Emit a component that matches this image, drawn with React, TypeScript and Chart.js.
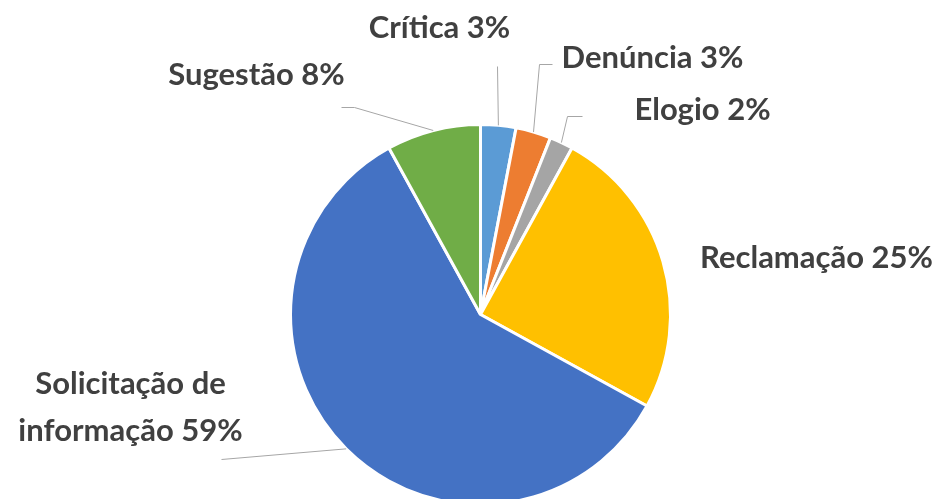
import React, { useEffect, useRef } from "react";
import { Chart, registerables } from "chart.js";
Chart.register(...registerables);

const categories = ["Crítica", "Denúncia", "Elogio", "Reclamação", "Solicitação de informação", "Sugestão"];
const values = [3, 3, 2, 25, 59, 8];
const colors = ["#5B9BD5", "#ED7D31", "#A5A5A5", "#FFC000", "#4472C4", "#70AD47"];
// how each category label wraps
const labelLines = [["Crítica"], ["Denúncia"], ["Elogio"], ["Reclamação"], ["Solicitação de", "informação"], ["Sugestão"]];
// label centre, relative to pie centre (px at radius 190)
const labelPos: number[][] = [[-41, -287], [172, -257], [222, -205], [336, -57], [-350, 93], [-224, -240]];
// leader line elbows / ends, relative to pie centre
const elbows: (number[] | null)[] = [[17, -248], [59, -250], [87, -198], null, null, [-126, -207]];
const tailEnds: (number[] | null)[] = [null, [72, -250], [102, -198], null, [-259, 145], [-139, -207]];

const FONT = "bold 31px Lato";
const LINE_H = 47;

const labelPlugin = {
  id: "pieLabels",
  afterDatasetsDraw(chart: any) {
    const ctx = chart.ctx;
    const meta = chart.getDatasetMeta(0);
    ctx.save();
    meta.data.forEach((arc: any, i: number) => {
      const { x, y, startAngle, endAngle, outerRadius } = arc.getProps(["x", "y", "startAngle", "endAngle", "outerRadius"], true);
      const s = outerRadius / 190;
      const mid = (startAngle + endAngle) / 2;
      const px = x + Math.cos(mid) * outerRadius;
      const py = y + Math.sin(mid) * outerRadius;
      const pts: number[][] = [[px, py]];
      if (elbows[i]) pts.push([x + elbows[i]![0] * s, y + elbows[i]![1] * s]);
      if (tailEnds[i]) pts.push([x + tailEnds[i]![0] * s, y + tailEnds[i]![1] * s]);
      if (pts.length > 1) {
        ctx.beginPath();
        ctx.strokeStyle = "#A6A6A6";
        ctx.lineWidth = 1;
        ctx.moveTo(pts[0][0], pts[0][1]);
        for (let k = 1; k < pts.length; k++) ctx.lineTo(pts[k][0], pts[k][1]);
        ctx.stroke();
      }
      const lines = labelLines[i].slice();
      lines[lines.length - 1] = lines[lines.length - 1] + " " + values[i] + "%";
      ctx.font = FONT;
      ctx.fillStyle = "#404040";
      ctx.textAlign = "center";
      ctx.textBaseline = "middle";
      const cx = x + labelPos[i][0] * s;
      const cy = y + labelPos[i][1] * s;
      const top = cy - ((lines.length - 1) * LINE_H) / 2;
      lines.forEach((t, k) => ctx.fillText(t, cx, top + k * LINE_H));
    });
    ctx.restore();
  },
};

export default function App() {
  const ref = useRef<HTMLCanvasElement>(null);
  useEffect(() => {
    const chart = new Chart(ref.current!, {
      type: "pie",
      data: {
        labels: categories,
        datasets: [
          {
            data: values,
            backgroundColor: colors,
            borderColor: "#FFFFFF",
            borderWidth: 3,
          },
        ],
      },
      options: {
        responsive: false,
        animation: false,
        devicePixelRatio: 1,
        layout: { padding: { left: 289, right: 276, top: 123, bottom: 24 } },
        plugins: { legend: { display: false }, tooltip: { enabled: false } },
      },
      plugins: [labelPlugin],
    });
    return () => chart.destroy();
  }, []);
  return (
    <div style={{ position: "absolute", left: 0, top: 0, width: 948, height: 499, overflow: "hidden", background: "#fff" }}>
      <canvas ref={ref} width={948} height={530} />
    </div>
  );
}
